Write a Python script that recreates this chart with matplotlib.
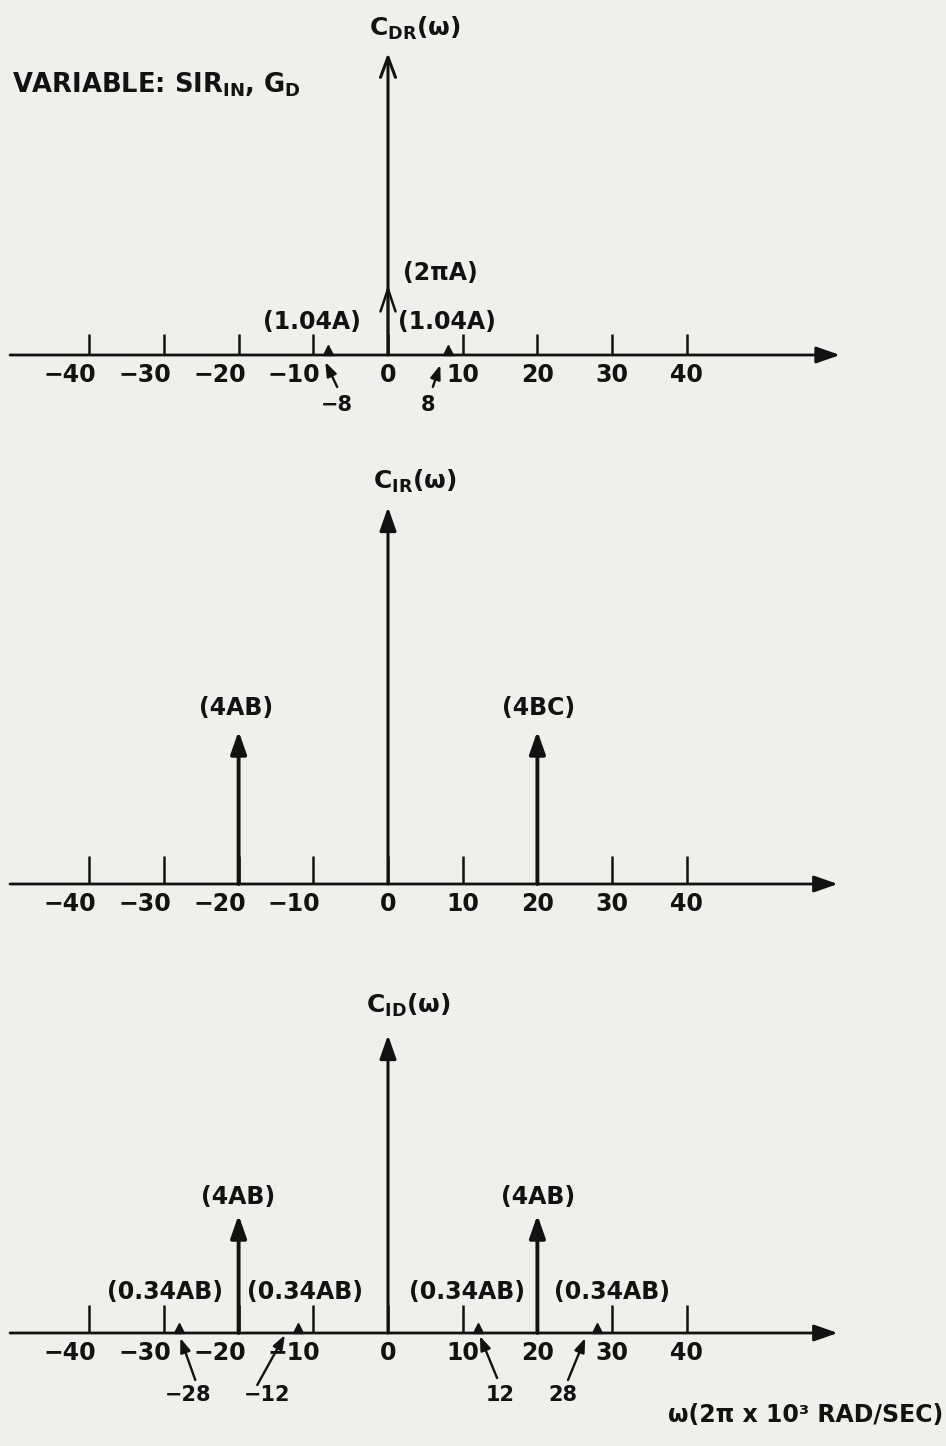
import matplotlib

matplotlib.use("Agg")

import matplotlib.pyplot as plt
import matplotlib.transforms as mtransforms

plt.rcParams["font.family"] = ["DejaVu Sans"]
plt.rcParams["font.weight"] = "bold"
plt.rcParams["mathtext.default"] = "bf"

INK = "#121212"
PAPER = "#efefec"

# frequency axis (units of 2*pi*10^3 rad/sec)
TICKS = [-40, -30, -20, -10, 0, 10, 20, 30, 40]
TICK_LABELS = ["\u221240", "\u221230", "\u221220", "\u221210", "0", "10", "20", "30", "40"]

# C_DR(w): impulse positions, relative heights, labels
DR_FREQS = [-8, 0, 8]
DR_HEIGHTS = [10, 70, 10]
DR_LABELS = ["(1.04A)", "(2\u03c0A)", "(1.04A)"]
DR_MARKED = [-8, 8]

# C_IR(w)
IR_FREQS = [-20, 20]
IR_HEIGHTS = [153, 153]
IR_LABELS = ["(4AB)", "(4BC)"]

# C_ID(w)
ID_FREQS = [-28, -20, -12, 12, 20, 28]
ID_HEIGHTS = [10, 118, 10, 10, 118, 10]
ID_LABELS = ["(0.34AB)", "(4AB)", "(0.34AB)", "(0.34AB)", "(4AB)", "(0.34AB)"]
ID_MARKED = [-28, -12, 12, 28]

FIG_W, FIG_H = 946, 1446
PX_PER_UNIT = 7.47
ZERO_PX = 388


def fmt(v):
    return f"{v}".replace("-", "\u2212")


def setup_axes(fig, top_px, bottom_px, base_px):
    ax = fig.add_axes([0, 1 - bottom_px / FIG_H, 1, (bottom_px - top_px) / FIG_H])
    ax.set_xlim(-ZERO_PX / PX_PER_UNIT, (FIG_W - ZERO_PX) / PX_PER_UNIT)
    ax.set_ylim(-(bottom_px - base_px), base_px - top_px)
    ax.set_facecolor("none")
    for side in ("top", "right", "left"):
        ax.spines[side].set_visible(False)
    ax.spines["bottom"].set_position(("data", 0))
    ax.spines["bottom"].set_visible(False)
    ax.set_yticks([])
    return ax


def draw_panel(ax, title, freqs, heights, labels, label_dx, label_dy,
               axis_top, axis_end, tick_len, title_xy, marks, head_fill=True):
    # horizontal axis with arrow
    ax.annotate("", xy=(axis_end, 0), xytext=(-50.6, 0),
                arrowprops=dict(arrowstyle="-|>,head_length=0.8,head_width=0.28",
                                lw=2.0, color=INK, mutation_scale=18,
                                shrinkA=0, shrinkB=0))
    ax.set_xticks(TICKS)
    ax.set_xticklabels(TICK_LABELS)
    ax.tick_params(axis="x", direction="in", length=tick_len, width=1.8,
                   colors=INK, labelsize=17, pad=6)
    shift = mtransforms.ScaledTranslation(-19 / 100, 0, ax.figure.dpi_scale_trans)
    for lab, t in zip(ax.get_xticklabels(), TICKS):
        if t < 0:
            lab.set_transform(lab.get_transform() + shift)

    # vertical axis
    if head_fill:
        style = "-|>,head_length=0.8,head_width=0.28"
    else:
        style = "->,head_length=0.8,head_width=0.3"
    ax.annotate("", xy=(0, axis_top), xytext=(0, 0),
                arrowprops=dict(arrowstyle=style, lw=2.2, color=INK,
                                mutation_scale=18, shrinkA=0, shrinkB=0))
    ax.text(title_xy[0], title_xy[1], title, fontsize=18, color=INK,
            ha="center", va="center")

    # impulses
    for f, h, lab, dx, dy in zip(freqs, heights, labels, label_dx, label_dy):
        if h > 40:
            if f == 0 and not head_fill:
                ax.annotate("", xy=(f, h), xytext=(f, 0),
                            arrowprops=dict(arrowstyle="->,head_length=0.9,head_width=0.3",
                                            lw=1.8, color=INK, mutation_scale=18,
                                            shrinkA=0, shrinkB=0))
            else:
                ax.annotate("", xy=(f, h), xytext=(f, 0),
                            arrowprops=dict(arrowstyle="-|>,head_length=0.8,head_width=0.28",
                                            lw=2.8, color=INK, mutation_scale=17,
                                            shrinkA=0, shrinkB=0))
        else:
            ax.plot([f], [h / 2], marker="^", ms=7, color=INK, mec=INK, lw=0)
        ax.text(f + dx, h + dy, lab, fontsize=17, color=INK, ha="center", va="center")

    # small frequency markers below the axis
    for f, (tip_dx, tip_y, tail_dx, tail_y, lab_dx, lab_y) in marks:
        ax.annotate("", xy=(f + tip_dx, tip_y), xytext=(f + tail_dx, tail_y),
                    arrowprops=dict(arrowstyle="-|>,head_length=0.6,head_width=0.22",
                                    lw=1.7, color=INK, mutation_scale=14,
                                    shrinkA=0, shrinkB=0))
        ax.text(f + lab_dx, lab_y, fmt(f), fontsize=15, color=INK,
                ha="center", va="center")


fig = plt.figure(figsize=(FIG_W / 100, FIG_H / 100), dpi=100)
fig.patch.set_facecolor(PAPER)

# panel 1: C_DR
ax1 = setup_axes(fig, 0, 440, 355)
dr_geom = [(-0.4, -7, 1.2, -32, 1.2, -50), (-1.0, -10, -2.0, -32, -2.6, -50)]
draw_panel(ax1, r"$C_{DR}(\omega)$", DR_FREQS, DR_HEIGHTS, DR_LABELS,
           [-2.2, 7.0, -0.1], [23, 12, 23], 302, 60.5, 15, (3.6, 327),
           list(zip(DR_MARKED, dr_geom)), head_fill=False)
ax1.text(-50.3, 270, r"VARIABLE: SIR$_{IN}$, G$_{D}$", fontsize=18.5,
         color=INK, ha="left", va="center")

# panel 2: C_IR
ax2 = setup_axes(fig, 440, 960, 884)
draw_panel(ax2, r"$C_{IR}(\omega)$", IR_FREQS, IR_HEIGHTS, IR_LABELS,
           [-0.3, 0.1], [23, 23], 377, 60.2, 20, (3.6, 403), [])

# panel 3: C_ID
ax3 = setup_axes(fig, 960, 1446, 1333)
id_geom = [(0.2, -5, 2.2, -47, 1.2, -62), (-1.8, -2, -5.5, -52, -4.2, -62),
           (0.3, -3, 2.6, -45, 3.0, -62), (-1.6, -5, -3.9, -47, -4.6, -62)]
draw_panel(ax3, r"$C_{ID}(\omega)$", ID_FREQS, ID_HEIGHTS, ID_LABELS,
           [-1.9, -0.1, 0.9, -1.4, 0.1, 2.0], [31, 18, 31, 31, 18, 31],
           298, 60.2, 20, (2.7, 328), list(zip(ID_MARKED, id_geom)))
ax3.text(0.997, -82, "\u03c9(2\u03c0 x 10\u00b3 RAD/SEC)", fontsize=17, color=INK,
         ha="right", va="center", transform=ax3.get_yaxis_transform())

fig.savefig("out.png", dpi=100, facecolor=PAPER)
